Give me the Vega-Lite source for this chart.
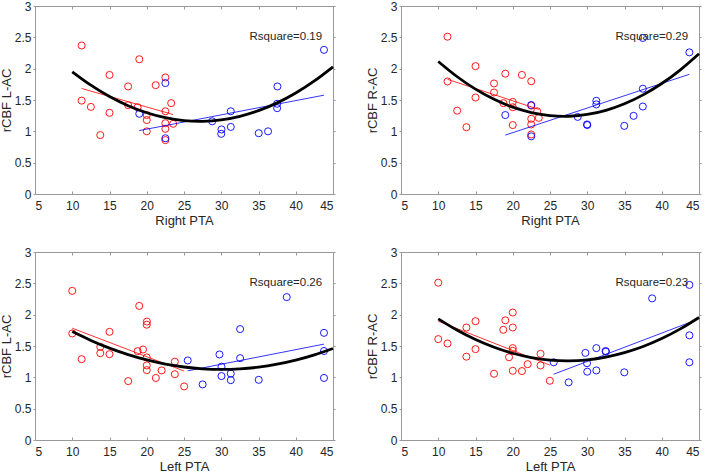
{
  "$schema": "https://vega.github.io/schema/vega-lite/v6.json",
  "padding": {"left": 0, "top": 0, "right": 0, "bottom": 0},
  "background": "white",
  "columns": 2,
  "spacing": {"row": 58, "column": 68},
  "bounds": "flush",
  "config": {
    "view": {"stroke": null},
    "font": "Liberation Sans",
    "axis": {
      "grid": false,
      "domainColor": "#999999",
      "domainWidth": 1,
      "tickColor": "#999999",
      "tickWidth": 1,
      "labelFont": "Liberation Sans",
      "labelFontSize": 12,
      "labelColor": "#262626",
      "titleFont": "Liberation Sans",
      "titleFontSize": 13,
      "titleFontWeight": "normal",
      "titleColor": "#262626"
    },
    "axisBottom": {"tickSize": -3, "labelPadding": 9, "titlePadding": 3},
    "axisTop": {"tickSize": -3, "labels": false},
    "axisLeft": {"tickSize": 2, "labelPadding": 2, "titlePadding": 1},
    "axisRight": {"tickSize": 2, "labels": false}
  },
  "datasets": {
    "pts": [
      {"p":1,"g":"red","x":11.26,"y":2.37},{"p":1,"g":"red","x":11.26,"y":1.49},{"p":1,"g":"red","x":12.5,"y":1.39},{"p":1,"g":"red","x":13.76,"y":0.94},{"p":1,"g":"red","x":15,"y":1.9},{"p":1,"g":"red","x":15,"y":1.295},{"p":1,"g":"red","x":17.5,"y":1.716},{"p":1,"g":"red","x":17.5,"y":1.417},{"p":1,"g":"red","x":18.77,"y":1.385},{"p":1,"g":"red","x":19.0,"y":2.15},{"p":1,"g":"red","x":20,"y":1.26},{"p":1,"g":"red","x":20,"y":1.18},{"p":1,"g":"red","x":20,"y":1.0},{"p":1,"g":"red","x":21.2,"y":1.737},{"p":1,"g":"red","x":22.5,"y":1.86},{"p":1,"g":"red","x":22.5,"y":1.32},{"p":1,"g":"red","x":22.5,"y":1.13},{"p":1,"g":"red","x":22.5,"y":1.04},{"p":1,"g":"red","x":22.5,"y":0.86},{"p":1,"g":"red","x":23.28,"y":1.45},{"p":1,"g":"red","x":23.55,"y":1.12},
      {"p":1,"g":"blue","x":19.0,"y":1.28},{"p":1,"g":"blue","x":22.5,"y":1.77},{"p":1,"g":"blue","x":22.5,"y":0.89},{"p":1,"g":"blue","x":28.78,"y":1.16},{"p":1,"g":"blue","x":30.03,"y":1.03},{"p":1,"g":"blue","x":30,"y":0.96},{"p":1,"g":"blue","x":31.28,"y":1.32},{"p":1,"g":"blue","x":31.28,"y":1.07},{"p":1,"g":"blue","x":35.03,"y":0.97},{"p":1,"g":"blue","x":36.28,"y":1.0},{"p":1,"g":"blue","x":37.54,"y":1.716},{"p":1,"g":"blue","x":37.5,"y":1.44},{"p":1,"g":"blue","x":37.5,"y":1.37},{"p":1,"g":"blue","x":43.79,"y":2.3},
      {"p":2,"g":"red","x":11.24,"y":2.51},{"p":2,"g":"red","x":11.24,"y":1.796},{"p":2,"g":"red","x":12.54,"y":1.33},{"p":2,"g":"red","x":13.78,"y":1.066},{"p":2,"g":"red","x":15,"y":2.04},{"p":2,"g":"red","x":15,"y":1.54},{"p":2,"g":"red","x":17.49,"y":1.764},{"p":2,"g":"red","x":17.49,"y":1.62},{"p":2,"g":"red","x":18.75,"y":1.45},{"p":2,"g":"red","x":19.0,"y":1.92},{"p":2,"g":"red","x":20,"y":1.47},{"p":2,"g":"red","x":20,"y":1.385},{"p":2,"g":"red","x":20,"y":1.1},{"p":2,"g":"red","x":21.23,"y":1.9},{"p":2,"g":"red","x":22.48,"y":1.8},{"p":2,"g":"red","x":22.48,"y":1.41},{"p":2,"g":"red","x":22.48,"y":1.2},{"p":2,"g":"red","x":22.48,"y":1.11},{"p":2,"g":"red","x":22.48,"y":0.95},{"p":2,"g":"red","x":23.28,"y":1.32},{"p":2,"g":"red","x":23.5,"y":1.215},
      {"p":2,"g":"blue","x":19.0,"y":1.26},{"p":2,"g":"blue","x":22.48,"y":1.42},{"p":2,"g":"blue","x":22.48,"y":0.92},{"p":2,"g":"blue","x":28.72,"y":1.23},{"p":2,"g":"blue","x":29.97,"y":1.11},{"p":2,"g":"blue","x":30.0,"y":1.1},{"p":2,"g":"blue","x":31.22,"y":1.487},{"p":2,"g":"blue","x":31.22,"y":1.43},{"p":2,"g":"blue","x":34.97,"y":1.087},{"p":2,"g":"blue","x":36.22,"y":1.247},{"p":2,"g":"blue","x":37.46,"y":1.396},{"p":2,"g":"blue","x":37.46,"y":1.68},{"p":2,"g":"blue","x":37.46,"y":2.49},{"p":2,"g":"blue","x":43.71,"y":2.26},
      {"p":3,"g":"red","x":10,"y":2.38},{"p":3,"g":"red","x":10,"y":1.7},{"p":3,"g":"red","x":11.26,"y":1.29},{"p":3,"g":"red","x":13.76,"y":1.487},{"p":3,"g":"red","x":13.76,"y":1.386},{"p":3,"g":"red","x":15,"y":1.726},{"p":3,"g":"red","x":15,"y":1.37},{"p":3,"g":"red","x":17.51,"y":0.94},{"p":3,"g":"red","x":18.77,"y":1.418},{"p":3,"g":"red","x":18.99,"y":2.14},{"p":3,"g":"red","x":19.5,"y":1.444},{"p":3,"g":"red","x":20.02,"y":1.89},{"p":3,"g":"red","x":20,"y":1.84},{"p":3,"g":"red","x":20,"y":1.317},{"p":3,"g":"red","x":20,"y":1.19},{"p":3,"g":"red","x":20,"y":1.115},{"p":3,"g":"red","x":21.22,"y":0.99},{"p":3,"g":"red","x":22,"y":1.11},{"p":3,"g":"red","x":23.77,"y":1.25},{"p":3,"g":"red","x":23.77,"y":1.05},{"p":3,"g":"red","x":25.02,"y":0.855},
      {"p":3,"g":"blue","x":25.5,"y":1.27},{"p":3,"g":"blue","x":27.5,"y":0.887},{"p":3,"g":"blue","x":29.76,"y":1.365},{"p":3,"g":"blue","x":30.03,"y":1.17},{"p":3,"g":"blue","x":30.03,"y":1.02},{"p":3,"g":"blue","x":31.28,"y":1.06},{"p":3,"g":"blue","x":31.28,"y":0.955},{"p":3,"g":"blue","x":32.53,"y":1.77},{"p":3,"g":"blue","x":32.53,"y":1.306},{"p":3,"g":"blue","x":35.03,"y":0.96},{"p":3,"g":"blue","x":38.79,"y":2.28},{"p":3,"g":"blue","x":43.79,"y":1.71},{"p":3,"g":"blue","x":43.79,"y":1.42},{"p":3,"g":"blue","x":43.79,"y":0.99},
      {"p":4,"g":"red","x":10,"y":2.51},{"p":4,"g":"red","x":10,"y":1.61},{"p":4,"g":"red","x":11.24,"y":1.54},{"p":4,"g":"red","x":13.78,"y":1.795},{"p":4,"g":"red","x":13.78,"y":1.33},{"p":4,"g":"red","x":15,"y":1.896},{"p":4,"g":"red","x":15,"y":1.45},{"p":4,"g":"red","x":17.49,"y":1.057},{"p":4,"g":"red","x":18.73,"y":1.758},{"p":4,"g":"red","x":19,"y":1.91},{"p":4,"g":"red","x":19.5,"y":1.32},{"p":4,"g":"red","x":20,"y":2.034},{"p":4,"g":"red","x":20,"y":1.795},{"p":4,"g":"red","x":20,"y":1.466},{"p":4,"g":"red","x":20,"y":1.423},{"p":4,"g":"red","x":20,"y":1.104},{"p":4,"g":"red","x":21.23,"y":1.1},{"p":4,"g":"red","x":22,"y":1.21},{"p":4,"g":"red","x":23.73,"y":1.375},{"p":4,"g":"red","x":23.73,"y":1.19},{"p":4,"g":"red","x":24.98,"y":0.945},
      {"p":4,"g":"blue","x":25.5,"y":1.24},{"p":4,"g":"blue","x":27.5,"y":0.92},{"p":4,"g":"blue","x":29.75,"y":1.39},{"p":4,"g":"blue","x":29.97,"y":1.225},{"p":4,"g":"blue","x":30,"y":1.09},{"p":4,"g":"blue","x":31.22,"y":1.466},{"p":4,"g":"blue","x":31.22,"y":1.11},{"p":4,"g":"blue","x":32.47,"y":1.42},{"p":4,"g":"blue","x":32.5,"y":1.41},{"p":4,"g":"blue","x":34.97,"y":1.08},{"p":4,"g":"blue","x":38.71,"y":2.26},{"p":4,"g":"blue","x":43.71,"y":2.475},{"p":4,"g":"blue","x":43.71,"y":1.67},{"p":4,"g":"blue","x":43.71,"y":1.24}
    ],
    "fits": [
      {"p":1,"g":"red","x":11.26,"y":1.684},{"p":1,"g":"red","x":23.55,"y":1.268},
      {"p":1,"g":"blue","x":18.99,"y":1.012},{"p":1,"g":"blue","x":43.79,"y":1.577},
      {"p":2,"g":"red","x":11.24,"y":1.83},{"p":2,"g":"red","x":23.5,"y":1.35},
      {"p":2,"g":"blue","x":19.0,"y":0.94},{"p":2,"g":"blue","x":43.71,"y":1.91},
      {"p":3,"g":"red","x":10,"y":1.784},{"p":3,"g":"red","x":25.02,"y":1.1},
      {"p":3,"g":"blue","x":25.5,"y":1.104},{"p":3,"g":"blue","x":43.79,"y":1.53},
      {"p":4,"g":"red","x":10,"y":1.896},{"p":4,"g":"red","x":24.98,"y":1.195},
      {"p":4,"g":"blue","x":25.5,"y":1.05},{"p":4,"g":"blue","x":43.71,"y":1.874}
    ],
    "curve": [
      {"p":1,"x":10,"y":1.95},{"p":1,"x":12.5,"y":1.736},{"p":1,"x":15,"y":1.555},{"p":1,"x":17.5,"y":1.409},{"p":1,"x":20,"y":1.296},{"p":1,"x":22.5,"y":1.217},{"p":1,"x":25,"y":1.172},{"p":1,"x":27.5,"y":1.16},{"p":1,"x":30,"y":1.183},{"p":1,"x":32.5,"y":1.24},{"p":1,"x":35,"y":1.33},{"p":1,"x":37.5,"y":1.454},{"p":1,"x":40,"y":1.612},{"p":1,"x":42.5,"y":1.804},{"p":1,"x":45,"y":2.03},
      {"p":2,"x":10,"y":2.115},{"p":2,"x":12.5,"y":1.875},{"p":2,"x":15,"y":1.674},{"p":2,"x":17.5,"y":1.511},{"p":2,"x":20,"y":1.386},{"p":2,"x":22.5,"y":1.3},{"p":2,"x":25,"y":1.251},{"p":2,"x":27.5,"y":1.241},{"p":2,"x":30,"y":1.269},{"p":2,"x":32.5,"y":1.335},{"p":2,"x":35,"y":1.44},{"p":2,"x":37.5,"y":1.582},{"p":2,"x":40,"y":1.763},{"p":2,"x":42.5,"y":1.982},{"p":2,"x":45,"y":2.239},
      {"p":3,"x":10,"y":1.73},{"p":3,"x":12.5,"y":1.589},{"p":3,"x":15,"y":1.466},{"p":3,"x":17.5,"y":1.363},{"p":3,"x":20,"y":1.278},{"p":3,"x":22.5,"y":1.212},{"p":3,"x":25,"y":1.165},{"p":3,"x":27.5,"y":1.136},{"p":3,"x":30,"y":1.126},{"p":3,"x":32.5,"y":1.135},{"p":3,"x":35,"y":1.162},{"p":3,"x":37.5,"y":1.209},{"p":3,"x":40,"y":1.274},{"p":3,"x":42.5,"y":1.358},{"p":3,"x":45,"y":1.46},
      {"p":4,"x":10,"y":1.933},{"p":4,"x":12.5,"y":1.754},{"p":4,"x":15,"y":1.603},{"p":4,"x":17.5,"y":1.48},{"p":4,"x":20,"y":1.384},{"p":4,"x":22.5,"y":1.316},{"p":4,"x":25,"y":1.276},{"p":4,"x":27.5,"y":1.264},{"p":4,"x":30,"y":1.279},{"p":4,"x":32.5,"y":1.323},{"p":4,"x":35,"y":1.394},{"p":4,"x":37.5,"y":1.492},{"p":4,"x":40,"y":1.619},{"p":4,"x":42.5,"y":1.773},{"p":4,"x":45,"y":1.955}
    ],
    "notes": [
      {"p":1,"x":33.8,"y":2.5,"label":"Rsquare=0.19"},
      {"p":2,"x":33.8,"y":2.5,"label":"Rsquare=0.29"},
      {"p":3,"x":33.8,"y":2.5,"label":"Rsquare=0.26"},
      {"p":4,"x":33.8,"y":2.5,"label":"Rsquare=0.23"}
    ]
  },
  "concat": [
    {
      "width": 298, "height": 188,
      "resolve": {"axis": {"x": "independent", "y": "independent"}},
      "layer": [
        {"data": {"name": "pts"}, "transform": [{"filter": "datum.p == 1"}],
         "mark": {"type": "point", "shape": "circle", "filled": false, "size": 50, "strokeWidth": 0.9, "opacity": 1},
         "encoding": {
           "x": {"field": "x", "type": "quantitative", "scale": {"domain": [5, 45], "nice": false}, "axis": {"orient": "bottom", "title": "Right PTA", "values": [5,10,15,20,25,30,35,40,45]}},
           "y": {"field": "y", "type": "quantitative", "scale": {"domain": [0, 3], "nice": false, "zero": false}, "axis": {"orient": "left", "title": "rCBF L-AC", "values": [0,0.5,1,1.5,2,2.5,3], "format": ".1~f"}},
           "color": {"field": "g", "type": "nominal", "scale": {"domain": ["red", "blue"], "range": ["#ff0000", "#0000ff"]}, "legend": null}}},
        {"data": {"name": "fits"}, "transform": [{"filter": "datum.p == 1"}],
         "mark": {"type": "line", "strokeWidth": 0.8},
         "encoding": {"x": {"field": "x", "type": "quantitative", "axis": null}, "y": {"field": "y", "type": "quantitative", "axis": null}, "color": {"field": "g", "type": "nominal", "legend": null}}},
        {"data": {"name": "curve"}, "transform": [{"filter": "datum.p == 1"}],
         "mark": {"type": "line", "color": "black", "strokeWidth": 2.8, "interpolate": "natural"},
         "encoding": {"x": {"field": "x", "type": "quantitative", "axis": null}, "y": {"field": "y", "type": "quantitative", "axis": null}}},
        {"data": {"name": "notes"}, "transform": [{"filter": "datum.p == 1"}],
         "mark": {"type": "text", "align": "left", "baseline": "middle", "font": "Liberation Sans", "fontSize": 11.5, "color": "#262626"},
         "encoding": {
           "x": {"field": "x", "type": "quantitative", "axis": {"orient": "top", "title": null, "values": [5,10,15,20,25,30,35,40,45]}},
           "y": {"field": "y", "type": "quantitative", "axis": {"orient": "right", "title": null, "values": [0,0.5,1,1.5,2,2.5,3]}},
           "text": {"field": "label"}}}
      ]
    },
    {
      "width": 298, "height": 188,
      "resolve": {"axis": {"x": "independent", "y": "independent"}},
      "layer": [
        {"data": {"name": "pts"}, "transform": [{"filter": "datum.p == 2"}],
         "mark": {"type": "point", "shape": "circle", "filled": false, "size": 50, "strokeWidth": 0.9, "opacity": 1},
         "encoding": {
           "x": {"field": "x", "type": "quantitative", "scale": {"domain": [5, 45], "nice": false}, "axis": {"orient": "bottom", "title": "Right PTA", "values": [5,10,15,20,25,30,35,40,45]}},
           "y": {"field": "y", "type": "quantitative", "scale": {"domain": [0, 3], "nice": false, "zero": false}, "axis": {"orient": "left", "title": "rCBF R-AC", "values": [0,0.5,1,1.5,2,2.5,3], "format": ".1~f"}},
           "color": {"field": "g", "type": "nominal", "scale": {"domain": ["red", "blue"], "range": ["#ff0000", "#0000ff"]}, "legend": null}}},
        {"data": {"name": "fits"}, "transform": [{"filter": "datum.p == 2"}],
         "mark": {"type": "line", "strokeWidth": 0.8},
         "encoding": {"x": {"field": "x", "type": "quantitative", "axis": null}, "y": {"field": "y", "type": "quantitative", "axis": null}, "color": {"field": "g", "type": "nominal", "legend": null}}},
        {"data": {"name": "curve"}, "transform": [{"filter": "datum.p == 2"}],
         "mark": {"type": "line", "color": "black", "strokeWidth": 2.8, "interpolate": "natural"},
         "encoding": {"x": {"field": "x", "type": "quantitative", "axis": null}, "y": {"field": "y", "type": "quantitative", "axis": null}}},
        {"data": {"name": "notes"}, "transform": [{"filter": "datum.p == 2"}],
         "mark": {"type": "text", "align": "left", "baseline": "middle", "font": "Liberation Sans", "fontSize": 11.5, "color": "#262626"},
         "encoding": {
           "x": {"field": "x", "type": "quantitative", "axis": {"orient": "top", "title": null, "values": [5,10,15,20,25,30,35,40,45]}},
           "y": {"field": "y", "type": "quantitative", "axis": {"orient": "right", "title": null, "values": [0,0.5,1,1.5,2,2.5,3]}},
           "text": {"field": "label"}}}
      ]
    },
    {
      "width": 298, "height": 188,
      "resolve": {"axis": {"x": "independent", "y": "independent"}},
      "layer": [
        {"data": {"name": "pts"}, "transform": [{"filter": "datum.p == 3"}],
         "mark": {"type": "point", "shape": "circle", "filled": false, "size": 50, "strokeWidth": 0.9, "opacity": 1},
         "encoding": {
           "x": {"field": "x", "type": "quantitative", "scale": {"domain": [5, 45], "nice": false}, "axis": {"orient": "bottom", "title": "Left PTA", "values": [5,10,15,20,25,30,35,40,45]}},
           "y": {"field": "y", "type": "quantitative", "scale": {"domain": [0, 3], "nice": false, "zero": false}, "axis": {"orient": "left", "title": "rCBF L-AC", "values": [0,0.5,1,1.5,2,2.5,3], "format": ".1~f"}},
           "color": {"field": "g", "type": "nominal", "scale": {"domain": ["red", "blue"], "range": ["#ff0000", "#0000ff"]}, "legend": null}}},
        {"data": {"name": "fits"}, "transform": [{"filter": "datum.p == 3"}],
         "mark": {"type": "line", "strokeWidth": 0.8},
         "encoding": {"x": {"field": "x", "type": "quantitative", "axis": null}, "y": {"field": "y", "type": "quantitative", "axis": null}, "color": {"field": "g", "type": "nominal", "legend": null}}},
        {"data": {"name": "curve"}, "transform": [{"filter": "datum.p == 3"}],
         "mark": {"type": "line", "color": "black", "strokeWidth": 2.8, "interpolate": "natural"},
         "encoding": {"x": {"field": "x", "type": "quantitative", "axis": null}, "y": {"field": "y", "type": "quantitative", "axis": null}}},
        {"data": {"name": "notes"}, "transform": [{"filter": "datum.p == 3"}],
         "mark": {"type": "text", "align": "left", "baseline": "middle", "font": "Liberation Sans", "fontSize": 11.5, "color": "#262626"},
         "encoding": {
           "x": {"field": "x", "type": "quantitative", "axis": {"orient": "top", "title": null, "values": [5,10,15,20,25,30,35,40,45]}},
           "y": {"field": "y", "type": "quantitative", "axis": {"orient": "right", "title": null, "values": [0,0.5,1,1.5,2,2.5,3]}},
           "text": {"field": "label"}}}
      ]
    },
    {
      "width": 298, "height": 188,
      "resolve": {"axis": {"x": "independent", "y": "independent"}},
      "layer": [
        {"data": {"name": "pts"}, "transform": [{"filter": "datum.p == 4"}],
         "mark": {"type": "point", "shape": "circle", "filled": false, "size": 50, "strokeWidth": 0.9, "opacity": 1},
         "encoding": {
           "x": {"field": "x", "type": "quantitative", "scale": {"domain": [5, 45], "nice": false}, "axis": {"orient": "bottom", "title": "Left PTA", "values": [5,10,15,20,25,30,35,40,45]}},
           "y": {"field": "y", "type": "quantitative", "scale": {"domain": [0, 3], "nice": false, "zero": false}, "axis": {"orient": "left", "title": "rCBF R-AC", "values": [0,0.5,1,1.5,2,2.5,3], "format": ".1~f"}},
           "color": {"field": "g", "type": "nominal", "scale": {"domain": ["red", "blue"], "range": ["#ff0000", "#0000ff"]}, "legend": null}}},
        {"data": {"name": "fits"}, "transform": [{"filter": "datum.p == 4"}],
         "mark": {"type": "line", "strokeWidth": 0.8},
         "encoding": {"x": {"field": "x", "type": "quantitative", "axis": null}, "y": {"field": "y", "type": "quantitative", "axis": null}, "color": {"field": "g", "type": "nominal", "legend": null}}},
        {"data": {"name": "curve"}, "transform": [{"filter": "datum.p == 4"}],
         "mark": {"type": "line", "color": "black", "strokeWidth": 2.8, "interpolate": "natural"},
         "encoding": {"x": {"field": "x", "type": "quantitative", "axis": null}, "y": {"field": "y", "type": "quantitative", "axis": null}}},
        {"data": {"name": "notes"}, "transform": [{"filter": "datum.p == 4"}],
         "mark": {"type": "text", "align": "left", "baseline": "middle", "font": "Liberation Sans", "fontSize": 11.5, "color": "#262626"},
         "encoding": {
           "x": {"field": "x", "type": "quantitative", "axis": {"orient": "top", "title": null, "values": [5,10,15,20,25,30,35,40,45]}},
           "y": {"field": "y", "type": "quantitative", "axis": {"orient": "right", "title": null, "values": [0,0.5,1,1.5,2,2.5,3]}},
           "text": {"field": "label"}}}
      ]
    }
  ]
}
